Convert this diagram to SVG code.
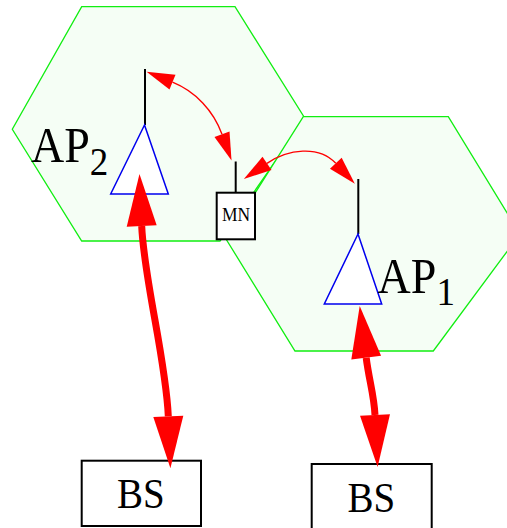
<svg xmlns="http://www.w3.org/2000/svg" width="507" height="528" viewBox="0 0 507 528">
<style>
.cell{fill:#f5fef5;stroke:#11ee11;stroke-width:1.3}
.ant{stroke:#000;stroke-width:2;fill:none}
.tri{fill:#fff;stroke:#0000ee;stroke-width:1.5}
.box{fill:#fff;stroke:#000;stroke-width:2}
.lbl{font-family:"Liberation Serif","Times New Roman",serif;fill:#000}
.thin{fill:none;stroke:#ff0000;stroke-width:1.4}
.thick{fill:none;stroke:#ff0000;stroke-width:7}
</style>
<defs>
<marker id="ah" markerUnits="userSpaceOnUse" markerWidth="28" markerHeight="16" viewBox="0 -8 28 16" refX="0" refY="0" orient="auto-start-reverse" overflow="visible">
<path d="M0,-8 L28,0 L0,8 z" fill="#ff0000"/>
</marker>
<marker id="ahBig" markerUnits="userSpaceOnUse" markerWidth="52" markerHeight="30" viewBox="0 -15 52 30" refX="0" refY="0" orient="auto-start-reverse" overflow="visible">
<path d="M0,-15 L52,0 L0,15 z" fill="#ff0000"/>
</marker>
</defs>
<g id="cell-ap2"><polygon class="cell" points="81.7,6.7 235,6.7 305,118.5 220,241 81.7,241 12.3,129.3"/></g>
<g id="cell-ap1"><polygon class="cell" points="303.3,116.7 448.3,116.7 520,234 433.3,351 295,351 226,239"/></g>
<g id="ap2">
<line class="ant" x1="145" y1="69" x2="145" y2="125"/>
<polygon class="tri" points="144.5,125 110.7,194 168.3,194"/>
<text class="lbl" transform="translate(31,161.7) scale(1,1.09)" font-size="46">AP<tspan font-size="37" dy="12.2">2</tspan></text>
</g>
<g id="ap1">
<line class="ant" x1="358.3" y1="179" x2="358.3" y2="234"/>
<polygon class="tri" points="358,234 324.3,304 381.7,304"/>
<text class="lbl" transform="translate(377.6,293.3) scale(1,1.09)" font-size="46">AP<tspan font-size="37" dy="10.7">1</tspan></text>
</g>
<g id="mn">
<line class="ant" x1="235.7" y1="161.5" x2="235.7" y2="193"/>
<rect class="box" x="216.7" y="192.7" width="38.3" height="46.6"/>
<text class="lbl" transform="translate(236,220.5) scale(1,1.09)" font-size="17.5" text-anchor="middle">MN</text>
</g>
<g id="bs-left">
<rect class="box" x="81.7" y="460.7" width="119.3" height="65.3"/>
<text class="lbl" transform="translate(140.8,508.3) scale(1,1.1)" font-size="39" text-anchor="middle">BS</text>
</g>
<g id="bs-right">
<rect class="box" x="311.7" y="464" width="120" height="66"/>
<text class="lbl" transform="translate(371.3,511.7) scale(1,1.1)" font-size="39" text-anchor="middle">BS</text>
</g>
<g id="connectors">
<path class="thin" marker-start="url(#ah)" marker-end="url(#ah)" d="M172.5,82.2 C195.6,91.6 213.5,110.7 222,134.2"/>
<path class="thin" marker-start="url(#ah)" marker-end="url(#ah)" d="M267,163.3 C287.7,149.2 318.8,145 335.8,163.3"/>
<path class="thick" marker-start="url(#ahBig)" marker-end="url(#ahBig)" d="M141.7,226 C144,280 166,360 168.3,416.3"/>
<path class="thick" marker-start="url(#ahBig)" marker-end="url(#ahBig)" d="M366.2,357.7 C369,380 374,395 375,415"/>
</g>
</svg>
